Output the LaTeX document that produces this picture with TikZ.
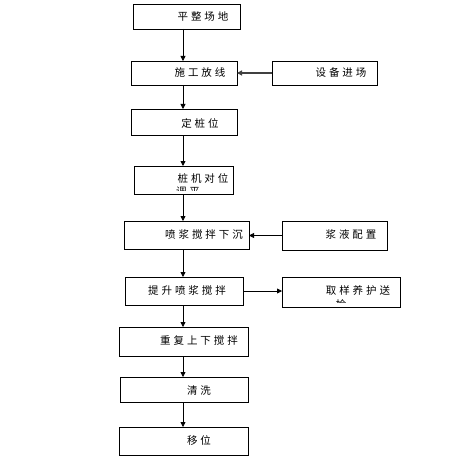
\documentclass[tikz,border=0pt]{standalone}
\usepackage{fontspec}
\newfontfamily\cjk[LetterSpace=28]{Noto Sans CJK SC}
\usetikzlibrary{arrows.meta}
\begin{document}
\begin{tikzpicture}[x=1pt,y=-1pt,
 box/.style={draw, line width=0.8pt, inner sep=0pt, outer sep=0pt, anchor=north west},
 lbl/.style={font=\cjk\fontsize{10.5}{12}\selectfont, inner sep=0pt},
 arr/.style={-{Triangle[length=5pt,width=5pt]}, line width=0.8pt}]
\useasboundingbox[fill=white] (0,0) rectangle (473,468);
% main column boxes
\node[box, minimum width=107pt, minimum height=25pt] (b1) at (133,4) {};
\node[box, minimum width=106pt, minimum height=24pt] (b2) at (131,61) {};
\node[box, minimum width=106pt, minimum height=26pt] (b3) at (131,109) {};
\node[box, minimum width=99pt, minimum height=28pt] (b4) at (134,166) {};
\node[box, minimum width=125pt, minimum height=28pt] (b5) at (124,221) {};
\node[box, minimum width=118pt, minimum height=28pt] (b6) at (125,277) {};
\node[box, minimum width=129pt, minimum height=29pt] (b7) at (119,327) {};
\node[box, minimum width=128pt, minimum height=25pt] (b8) at (120,377) {};
\node[box, minimum width=129pt, minimum height=28pt] (b9) at (119,427) {};
% side boxes
\node[box, minimum width=105pt, minimum height=24pt] (s1) at (272,61) {};
\node[box, minimum width=105pt, minimum height=29pt] (s2) at (282,221) {};
\node[box, minimum width=118pt, minimum height=30pt] (s3) at (282,277) {};
% labels
\node[lbl] (t1) at (203,17) {平整场地};
\node[lbl] (t2) at (200,73) {施工放线};
\node[lbl] (ts1) at (341,73) {设备进场};
\node[lbl] (t3) at (200,123) {定桩位};
\node[lbl] (t4) at (203,178) {桩机对位};
\begin{scope}
\clip (170,184) rectangle (206,190);
\node[lbl] (t4b) at (188,192) {调平};
\end{scope}
\node[lbl] (t5) at (204,234) {喷浆搅拌下沉};
\node[lbl] (ts2) at (351,234) {浆液配置};
\node[lbl] (t6) at (187,290) {提升喷浆搅拌};
\node[lbl] (ts3) at (358,290) {取样养护送};
\begin{scope}
\clip (330,297) rectangle (352,302);
\node[lbl] (ts3b) at (341,304) {检};
\end{scope}
\node[lbl] (t7) at (199,340) {重复上下搅拌};
\node[lbl] (t8) at (199,391) {清洗};
\node[lbl] (t9) at (199,440) {移位};
% connectors
\coordinate (v) at (183,0);
\draw[arr] (b1.south -| v) -- (b2.north -| v);
\draw[arr] (b2.south -| v) -- (b3.north -| v);
\draw[arr] (b3.south -| v) -- (b4.north -| v);
\draw[arr] (b4.south -| v) -- (b5.north -| v);
\draw[arr] (b5.south -| v) -- (b6.north -| v);
\draw[arr] (b6.south -| v) -- (b7.north -| v);
\draw[arr] (b7.south -| v) -- (b8.north -| v);
\draw[arr] (b8.south -| v) -- (b9.north -| v);
\draw[arr, draw=black!75, line width=1.2pt] (s1.west) -- (b2.east);
\draw[arr] (s2.west) -- (s2.west -| b5.east);
\draw[arr] (b6.east) -- (b6.east -| s3.west);
\end{tikzpicture}
\end{document}
